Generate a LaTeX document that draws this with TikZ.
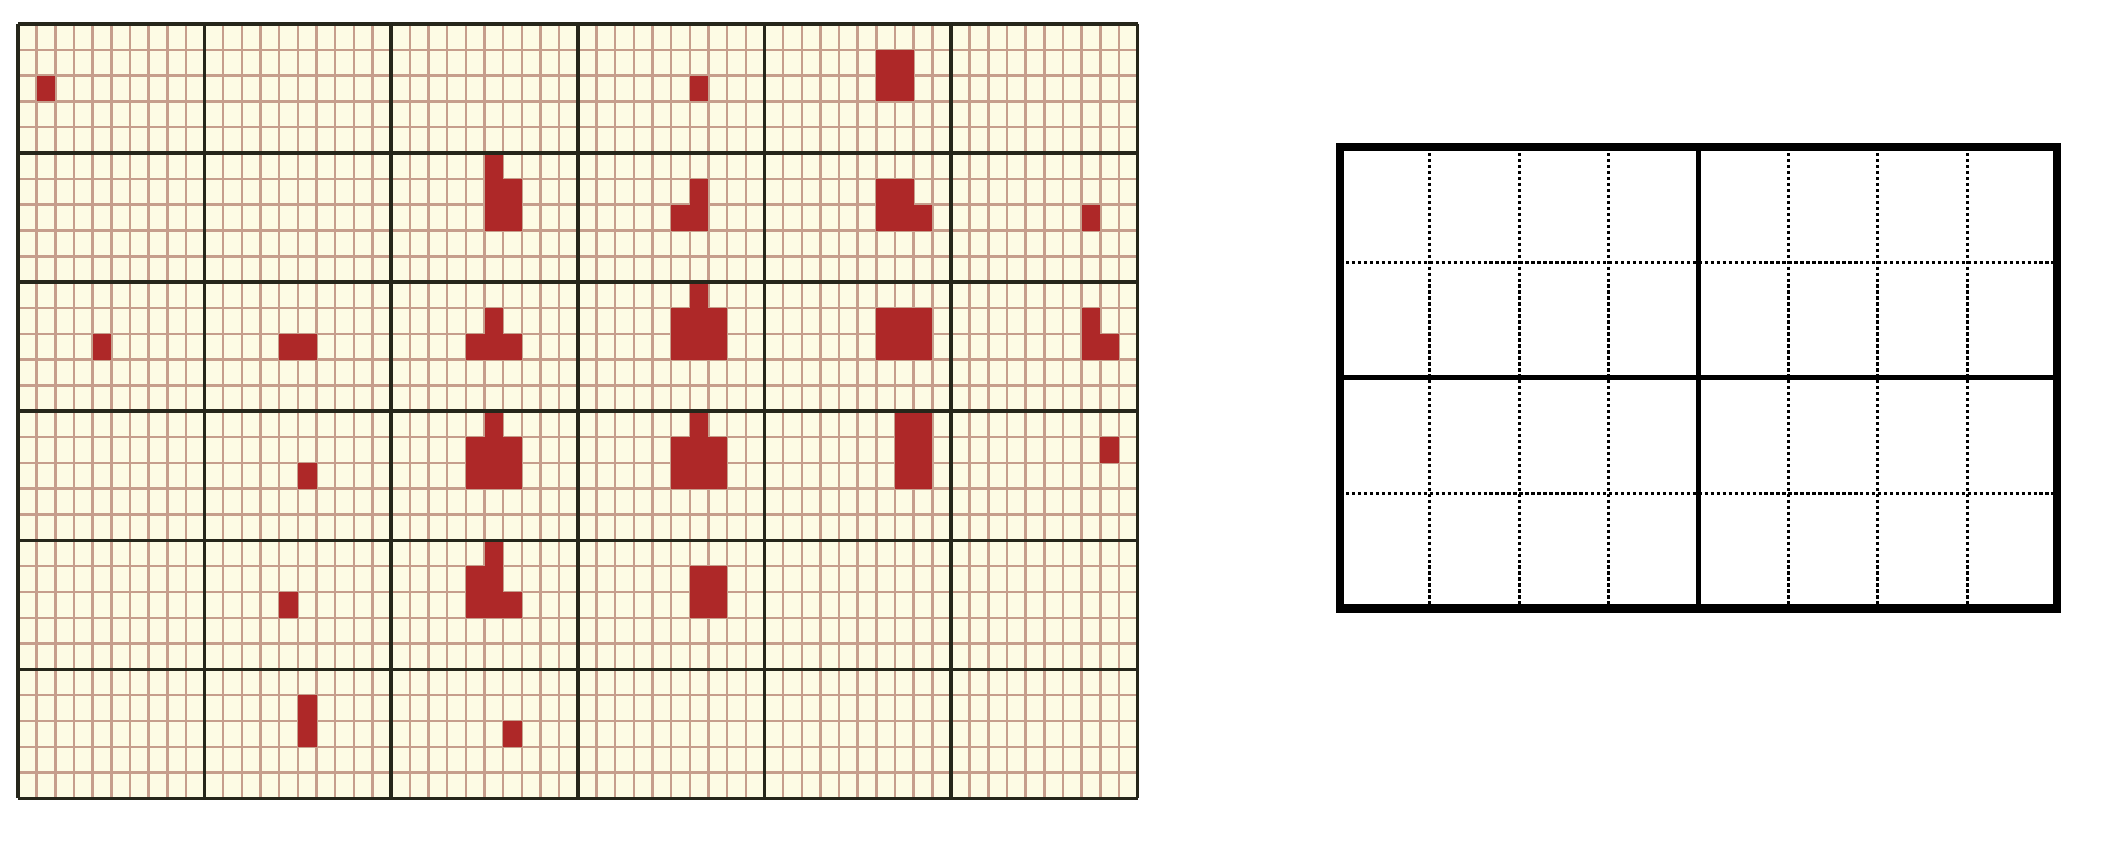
\documentclass[tikz,border=0pt]{standalone}
\usepackage{tikz}
\definecolor{ccream}{HTML}{FDFBE4}
\definecolor{ppink}{HTML}{C69E8C}
\definecolor{ddark}{HTML}{26261A}
\definecolor{rred}{HTML}{AE2828}

\begin{document}
\begin{tikzpicture}[x=0.01cm,y=-0.01cm,
  minorline/.style={ppink, line width=0.7pt},
  majorline/.style={ddark, line width=1pt},
  dotline/.style={black, line width=0.85pt, dash pattern=on 0.95pt off 0.75pt},
  solidline/.style={black, line width=1.3pt}]
\fill[white] (0,0) rectangle (2107,843);

\begin{scope}[shift={(18,24)},x=0.1865cm,y=-0.258cm]
\fill[ccream] (0,0) rectangle (60,30);
\foreach \i in {0,...,60}
\draw[minorline] (\i,0) -- (\i,30);
\foreach \j in {0,...,30}
\draw[minorline] (0,\j) -- (60,\j);

\foreach \xa/\ya/\xb/\yb in {1/2/2/3, 36/2/37/3, 46/1/48/3,
  25/5/26/8, 26/6/27/8, 36/6/37/8, 35/7/36/8, 46/6/48/8, 48/7/49/8, 57/7/58/8,
  4/12/5/13, 14/12/16/13, 25/11/26/12, 24/12/27/13, 36/10/37/11, 35/11/38/13,
  46/11/49/13, 57/11/58/13, 58/12/59/13,
  15/17/16/18, 25/15/26/16, 24/16/27/18, 36/15/37/16, 35/16/38/18, 47/15/49/18, 58/16/59/17,
  14/22/15/23, 25/20/26/23, 24/21/25/23, 26/22/27/23, 36/21/38/23,
  15/26/16/28, 26/27/27/28}
\fill[rred] (\xa,\ya) rectangle (\xb,\yb);

\foreach \i in {0,10,...,60}
\draw[majorline] (\i,0) -- (\i,30);
\foreach \j in {0,5,...,30}
\draw[majorline] (0,\j) -- (60,\j);
\end{scope}

\begin{scope}[shift={(1340,147)},x=0.896cm,y=-1.153cm]
\foreach \i in {1,2,3,5,6,7}
\draw[dotline] (\i,0) -- (\i,4);
\foreach \j in {1,3}
\draw[dotline] (0,\j) -- (8,\j);
\draw[solidline] (4,0) -- (4,4);
\draw[solidline] (0,2) -- (8,2);
\draw[black, line width=2.4pt] (0,0) rectangle (8,4);
\end{scope}
\end{tikzpicture}
\end{document}
